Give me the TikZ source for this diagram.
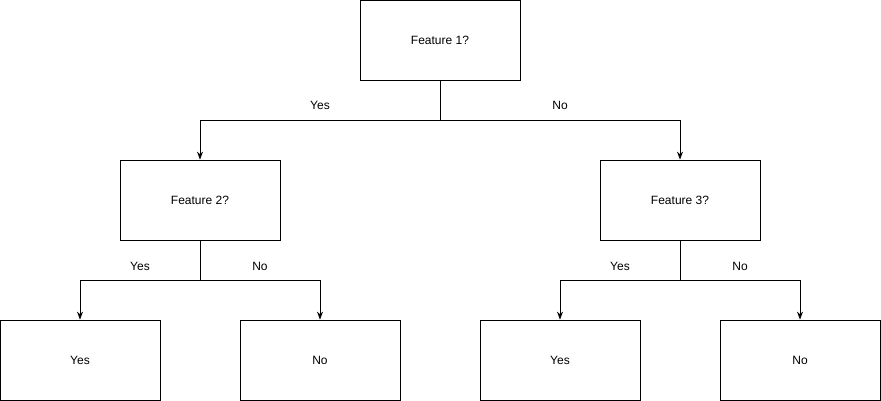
\documentclass[tikz,border=0pt]{standalone}
\usepackage{fontspec}
\setmainfont{Liberation Sans}
\usetikzlibrary{arrows.meta}
\begin{document}
\begin{tikzpicture}[x=1pt,y=-1pt,
  box/.style={draw,line width=0.8pt,minimum width=160pt,minimum height=80pt,inner sep=0pt,font=\fontsize{12}{14}\selectfont},
  lbl/.style={font=\fontsize{12}{14}\selectfont},
  conn/.style={line width=0.8pt,-{Stealth[length=8pt,width=6pt]}}]
\useasboundingbox (0,0) rectangle (881,401);
\node[box] (f1) at (440,40) {Feature 1?};
\node[box] (f2) at (200,200) {Feature 2?};
\node[box] (f3) at (680,200) {Feature 3?};
\node[box] (l1) at (80,360) {Yes};
\node[box] (l2) at (320,360) {No};
\node[box] (l3) at (560,360) {Yes};
\node[box] (l4) at (800,360) {No};
\coordinate (j1) at (440,120);
\coordinate (j2) at (200,280);
\coordinate (j3) at (680,280);
\draw[conn] (f1.south) -- (j1) -| (f2.north);
\draw[conn] (f1.south) -- (j1) -| (f3.north);
\draw[conn] (f2.south) -- (j2) -| (l1.north);
\draw[conn] (f2.south) -- (j2) -| (l2.north);
\draw[conn] (f3.south) -- (j3) -| (l3.north);
\draw[conn] (f3.south) -- (j3) -| (l4.north);
\node[lbl] (t1) at (320,105) {Yes};
\node[lbl] (t2) at (560,105) {No};
\node[lbl] (t3) at (140,266) {Yes};
\node[lbl] (t4) at (260,266) {No};
\node[lbl] (t5) at (620,266) {Yes};
\node[lbl] (t6) at (740,266) {No};
\end{tikzpicture}
\end{document}
